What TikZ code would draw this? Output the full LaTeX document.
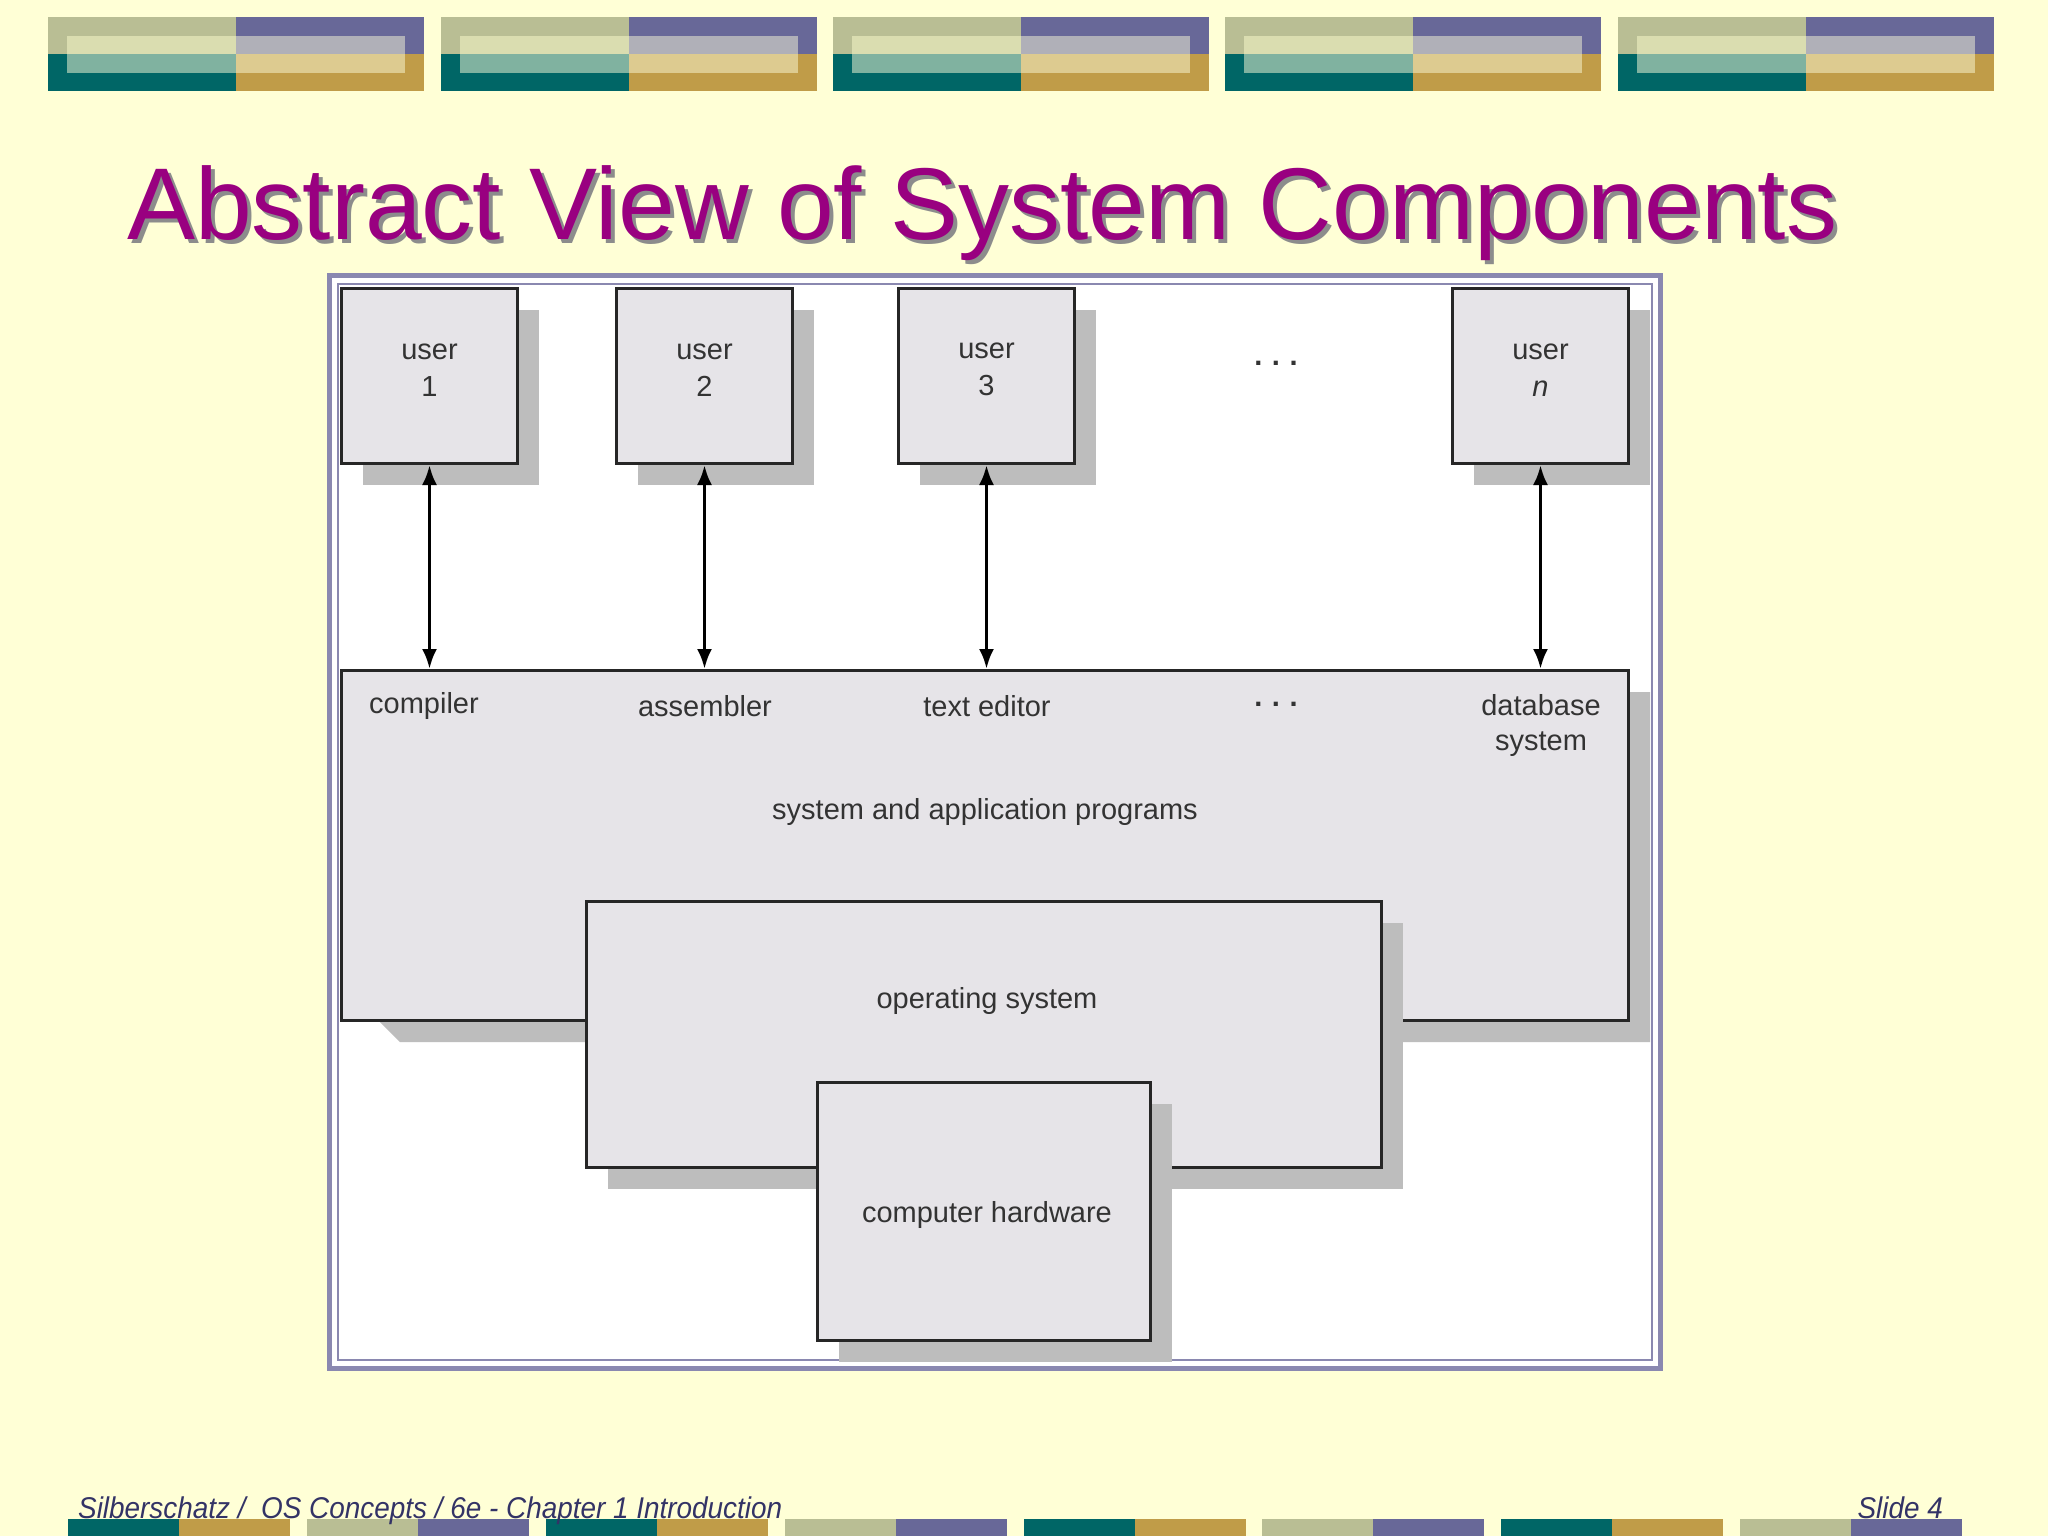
\documentclass[tikz,border=0pt]{standalone}
\usepackage{fontspec}
\setmainfont{Liberation Sans}
\begin{document}
\begin{tikzpicture}[x=1pt,y=-1pt,
  box/.style={draw=black!85,line width=3pt,fill=boxc},
  lbl/.style={font=\fontsize{29}{35}\selectfont,text=black!80,align=center},
  arr/.style={line width=3.5pt,<->,>={Latex[length=20pt,width=15pt]}}]
\usetikzlibrary{arrows.meta}
\definecolor{bg}{HTML}{FFFFD6}
\definecolor{olv}{HTML}{B9BE94}
\definecolor{tea}{HTML}{006666}
\definecolor{pur}{HTML}{686898}
\definecolor{gld}{HTML}{C09C48}
\definecolor{iol}{HTML}{DADDB0}
\definecolor{ite}{HTML}{80B2A0}
\definecolor{ipu}{HTML}{B0B0B8}
\definecolor{igo}{HTML}{DDCB90}
\definecolor{ttl}{HTML}{990080}
\definecolor{ftc}{HTML}{333366}
\definecolor{frm}{HTML}{8A88B0}
\definecolor{boxc}{HTML}{E6E4E8}
\definecolor{shadc}{HTML}{BDBDBD}
\useasboundingbox (0,0) rectangle (2048,1536);
\fill[bg] (0,0) rectangle (2048,1536);
% top tiles
\foreach \x in {48,441,833,1225,1618}{
  \fill[olv] (\x,17) rectangle (\x+188,54);
  \fill[tea] (\x,54) rectangle (\x+188,91);
  \fill[pur] (\x+188,17) rectangle (\x+376,54);
  \fill[gld] (\x+188,54) rectangle (\x+376,91);
  \fill[iol] (\x+19,36) rectangle (\x+188,54);
  \fill[ite] (\x+19,54) rectangle (\x+188,73);
  \fill[ipu] (\x+188,36) rectangle (\x+357,54);
  \fill[igo] (\x+188,54) rectangle (\x+357,73);
}
% bottom tiles
\foreach \x/\a/\b in {68/tea/gld,307/olv/pur,546/tea/gld,785/olv/pur,1024/tea/gld,1262/olv/pur,1501/tea/gld,1740/olv/pur}{
  \fill[\a] (\x,1519) rectangle (\x+111,1536);
  \fill[\b] (\x+111,1519) rectangle (\x+222,1536);
}
% title
\node[anchor=base west,text=black!45,font=\fontsize{102}{110}\selectfont,inner sep=0] at (131,243) {Abstract View of System Components};
\node[anchor=base west,text=ttl,font=\fontsize{102}{110}\selectfont,inner sep=0] (title) at (127,239) {Abstract View of System Components};
% footer
\node[anchor=base west,text=ftc,font=\itshape\fontsize{30}{34}\selectfont,inner sep=0,xscale=0.93] (foot) at (78,1518) {Silberschatz /\ \ OS Concepts / 6e - Chapter 1 Introduction};
\node[anchor=base east,text=ftc,font=\itshape\fontsize{30}{34}\selectfont,inner sep=0,xscale=0.93] (slide) at (1943,1518) {Slide 4};
% frame
\fill[white] (327,273) rectangle (1663,1371);
\draw[frm,line width=5pt] (329.5,275.5) rectangle (1660.5,1368.5);
\draw[frm,line width=2pt] (338,284) rectangle (1652,1360);
% users
\foreach \n/\x/\t in {u1/340/1,u2/615/2,u3/897/3,un/1451/{\textit{n}}}{
  \fill[shadc] (\x+23,310) rectangle (\x+199,485);
  \node[box,minimum width=176pt,minimum height=175pt,anchor=north west,inner sep=0,lbl,text height=40pt] (\n) at (\x,287) {user\\[2pt]\t};
}
\node[lbl,font=\bfseries\fontsize{29}{35}\selectfont] (d1) at (1276,363) {.\,\,.\,\,.};
% big box
\fill[shadc] (377,692) -- (1650,692) -- (1650,1042) -- (400,1042) -- (377,1019) -- cycle;
\node[box,minimum width=1287pt,minimum height=350pt,anchor=north west,inner sep=0] (sys) at (340,669) {};
\node[lbl] (comp) at (424,706) {compiler};
\node[lbl] (asm) at (705,706) {assembler};
\node[lbl] (ted) at (987,706) {text editor};
\node[lbl,font=\bfseries\fontsize{29}{35}\selectfont] (d2) at (1276,704) {.\,\,.\,\,.};
\node[lbl] (db) at (1541,725) {database\\system};
\node[lbl] (sap) at (985,812) {system and application programs};
% OS
\fill[shadc] (608,923) rectangle (1403,1189);
\node[box,minimum width=795pt,minimum height=266pt,anchor=north west,inner sep=0] (os) at (585,900) {};
\node[lbl] at (987,1001) {operating system};
% HW
\fill[shadc] (839,1104) rectangle (1172,1362);
\node[box,minimum width=333pt,minimum height=258pt,anchor=north west,inner sep=0] (hw) at (816,1081) {};
\node[lbl] at (987,1215) {computer hardware};
% arrows
\foreach \u in {u1,u2,u3,un}{
  \draw[arr] (\u.south) -- (\u.south |- sys.north);
}
\end{tikzpicture}
\end{document}
